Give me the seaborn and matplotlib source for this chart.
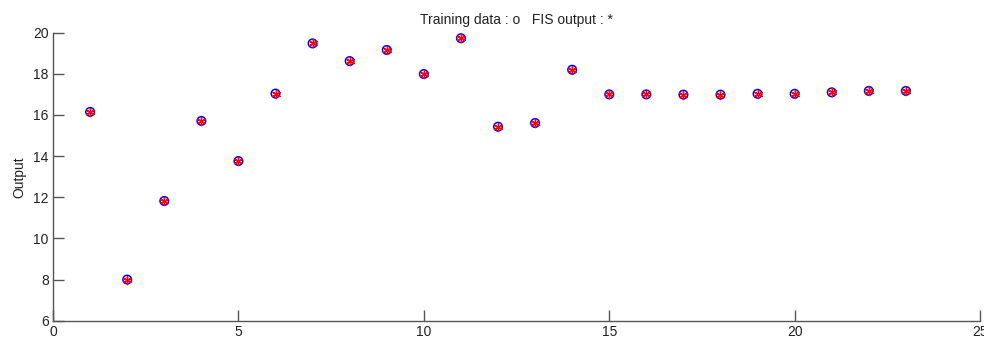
import matplotlib
matplotlib.use("Agg")
import matplotlib.pyplot as plt
import seaborn as sns
import pandas as pd

x_index = list(range(1, 24))
training_data = [16.15, 8.0, 11.82, 15.71, 13.76, 17.04, 19.48, 18.62, 19.16, 17.99,
                 19.73, 15.43, 15.61, 18.2, 17.0, 17.0, 16.99, 16.99, 17.03, 17.03,
                 17.1, 17.17, 17.17]
fis_output = [16.15, 8.0, 11.82, 15.71, 13.76, 17.04, 19.48, 18.62, 19.16, 17.99,
              19.73, 15.43, 15.61, 18.2, 17.0, 17.0, 16.99, 16.99, 17.03, 17.03,
              17.1, 17.17, 17.17]
x_ticks = [0, 5, 10, 15, 20, 25]
y_ticks = [6, 8, 10, 12, 14, 16, 18, 20]

sns.set_style("white")
plt.rcParams['font.family'] = ['Liberation Sans', 'DejaVu Sans']

df = pd.DataFrame({"x": x_index, "train": training_data, "fis": fis_output})

fig = plt.figure(figsize=(9.84, 3.42), dpi=100)
ax = fig.add_axes([0.0539, 0.0623, 0.9421, 0.8421])

sns.scatterplot(data=df, x="x", y="train", ax=ax, marker="o", s=38,
                facecolors="none", edgecolor="#0000ff", linewidth=1.1, zorder=3)
sns.scatterplot(data=df, x="x", y="fis", ax=ax, marker=(6, 2, 0), s=34,
                color="#ff0000", edgecolor="#ff0000", linewidth=1.0, zorder=4)

ax.set_xlim(0, 25)
ax.set_ylim(6, 20)
ax.set_xticks(x_ticks)
ax.set_yticks(y_ticks)
ax.set_xlabel("")
ax.set_ylabel("Output", fontsize=10, color="#222222", labelpad=5)
ax.set_title("Training data : o   FIS output : *", fontsize=10, color="#222222", pad=6)

for s in ["top", "right"]:
    ax.spines[s].set_visible(False)
for s in ["left", "bottom"]:
    ax.spines[s].set_color("#555555")
    ax.spines[s].set_linewidth(1.0)
ax.tick_params(axis="both", direction="in", length=8, width=1, color="#555555",
               labelsize=10, labelcolor="#222222", pad=3, bottom=True, left=True)

fig.savefig("out.png", dpi=100)
